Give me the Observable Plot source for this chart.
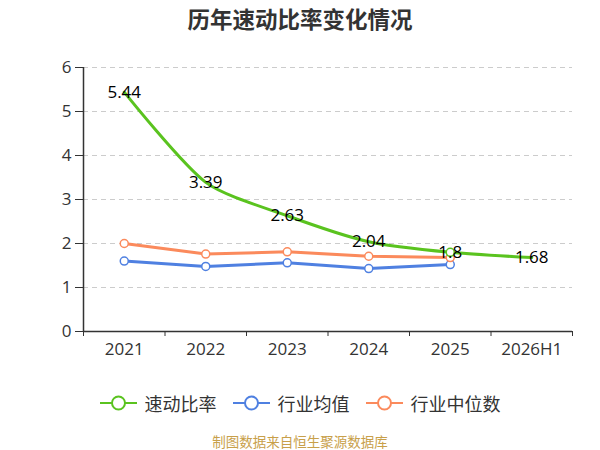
<!DOCTYPE html>
<html><head><meta charset="utf-8">
<script src="https://cdn.jsdelivr.net/npm/d3@7"></script>
<script src="https://cdn.jsdelivr.net/npm/@observablehq/plot@0.6"></script>
<style>
body{margin:0;background:#fff;}
#wrap{position:relative;width:600px;height:450px;font-family:"Open Sans","Noto Sans CJK SC",sans-serif;}
#title{position:absolute;top:2px;left:0;width:600px;text-align:center;font-weight:bold;font-size:22.5px;font-family:"Noto Sans CJK SC",sans-serif;color:#333;line-height:32px;}
#legend{position:absolute;top:390px;left:0;width:600px;display:flex;justify-content:center;gap:16px;font-family:"Noto Sans CJK SC",sans-serif;font-size:18px;color:#333;line-height:26px;}
.item{display:flex;align-items:center;gap:8px;}
#caption{position:absolute;top:431px;left:0;width:600px;text-align:center;font-family:"Noto Sans CJK SC",sans-serif;font-size:13.5px;color:#c8a04a;line-height:20px;}
#chart{position:absolute;top:0;left:0;}
</style>
</head><body>
<div id="wrap">
<div id="chart"></div>
<div id="title">历年速动比率变化情况</div>
<div id="legend"></div>
<div id="caption">制图数据来自恒生聚源数据库</div>
</div>
<script>
const years = ["2021","2022","2023","2024","2025","2026H1"];
const quickRatio = [5.44, 3.39, 2.63, 2.04, 1.8, 1.68];
const industryMean = [1.60, 1.48, 1.56, 1.43, 1.52];
const industryMedian = [2.00, 1.76, 1.81, 1.71, 1.68];
const yTicks = [0, 1, 2, 3, 4, 5, 6];
const seriesNames = ["速动比率", "行业均值", "行业中位数"];
const seriesColors = ["#5ac31f", "#4f80e1", "#fb8a5c"];

// lightly smoothed bezier curve as a d3 curve factory
function SmoothCurve(context) { this._context = context; }
SmoothCurve.prototype = {
  areaStart() {}, areaEnd() {},
  lineStart() { this._pts = []; },
  point(x, y) { this._pts.push([+x, +y]); },
  lineEnd() {
    const p = this._pts, c = this._context, s = 0.25, n = p.length;
    if (!n) return;
    const clamp = (v, a, b) => Math.max(Math.min(a, b), Math.min(Math.max(a, b), v));
    c.moveTo(p[0][0], p[0][1]);
    let cpx0 = p[0][0], cpy0 = p[0][1];
    for (let i = 1; i < n; i++) {
      const [x, y] = p[i], [px, py] = p[i - 1];
      let cpx1 = x, cpy1 = y, ncx = x, ncy = y;
      if (i < n - 1) {
        const [nx, ny] = p[i + 1];
        let vx = nx - px, vy = ny - py;
        const l0 = Math.hypot(x - px, y - py), l1 = Math.hypot(nx - x, ny - y);
        const r = l1 / (l0 + l1);
        ncx = clamp(x + vx * s * r, x, nx);
        ncy = clamp(y + vy * s * r, y, ny);
        vx = ncx - x; vy = ncy - y;
        cpx1 = clamp(x - vx * l0 / l1, px, x);
        cpy1 = clamp(y - vy * l0 / l1, py, y);
        vx = x - cpx1; vy = y - cpy1;
        ncx = x + vx * l1 / l0; ncy = y + vy * l1 / l0;
      }
      c.bezierCurveTo(cpx0, cpy0, cpx1, cpy1, x, y);
      cpx0 = ncx; cpy0 = ncy;
    }
  }
};
const smoothCurve = ctx => new SmoothCurve(ctx);

const toRows = arr => arr.map((v, i) => ({i, v, year: years[i]}));
const qr = toRows(quickRatio);
const mean = toRows(industryMean);
const median = toRows(industryMedian);
const bounds = d3.range(years.length + 1).map(i => i - 0.5);
const idx = years.map((_, i) => i);

const chart = Plot.plot({
  width: 600,
  height: 450,
  marginTop: 67,
  marginBottom: 119,
  marginLeft: 83,
  marginRight: 28,
  style: {fontFamily: '"Open Sans","Noto Sans CJK SC",sans-serif', color: "#333", background: "transparent"},
  x: {domain: [-0.5, years.length - 0.5]},
  y: {domain: [0, 6]},
  marks: [
    Plot.ruleY(yTicks.filter(d => d > 0), {stroke: "#ccc", strokeDasharray: "5,4", strokeWidth: 1}),
    Plot.axisY(yTicks, {tickSize: 8, tickPadding: 4, fontSize: 17, stroke: "#333", fill: "#333", label: null}),
    Plot.ruleX([-0.5], {y1: 0, y2: 6, stroke: "#333", strokeWidth: 1.5}),
    Plot.ruleY([0], {stroke: "#333", strokeWidth: 1.5}),
    Plot.axisX(bounds, {tickSize: 5, tickFormat: () => "", stroke: "#333", label: null}),
    Plot.axisX(idx, {tickSize: 0, tickPadding: 11, fontSize: 17, tickFormat: i => years[i], fill: "#333", label: null}),
    Plot.line(mean, {x: "i", y: "v", stroke: seriesColors[1], strokeWidth: 3}),
    Plot.dot(mean, {x: "i", y: "v", r: 4, fill: "white", stroke: seriesColors[1], strokeWidth: 1.5}),
    Plot.line(median, {x: "i", y: "v", stroke: seriesColors[2], strokeWidth: 3}),
    Plot.dot(median, {x: "i", y: "v", r: 4, fill: "white", stroke: seriesColors[2], strokeWidth: 1.5}),
    Plot.line(qr, {x: "i", y: "v", stroke: seriesColors[0], strokeWidth: 3, curve: smoothCurve}),
    Plot.dot(qr.filter(d => d.year === "2025"), {x: "i", y: "v", r: 4, fill: "white", stroke: seriesColors[0], strokeWidth: 1.5}),
    Plot.text(qr, {x: "i", y: "v", text: d => String(d.v), fontSize: 17, fill: "#000", textAnchor: "middle"})
  ]
});
document.getElementById("chart").appendChild(chart);

const legend = document.getElementById("legend");
seriesNames.forEach((name, k) => {
  const item = document.createElement("div");
  item.className = "item";
  item.innerHTML = `<svg width="37" height="16"><line x1="0" y1="8" x2="37" y2="8" stroke="${seriesColors[k]}" stroke-width="2"/><circle cx="18.5" cy="8" r="6.5" fill="#fff" stroke="${seriesColors[k]}" stroke-width="2"/></svg><span>${name}</span>`;
  legend.appendChild(item);
});
</script>
</body></html>
